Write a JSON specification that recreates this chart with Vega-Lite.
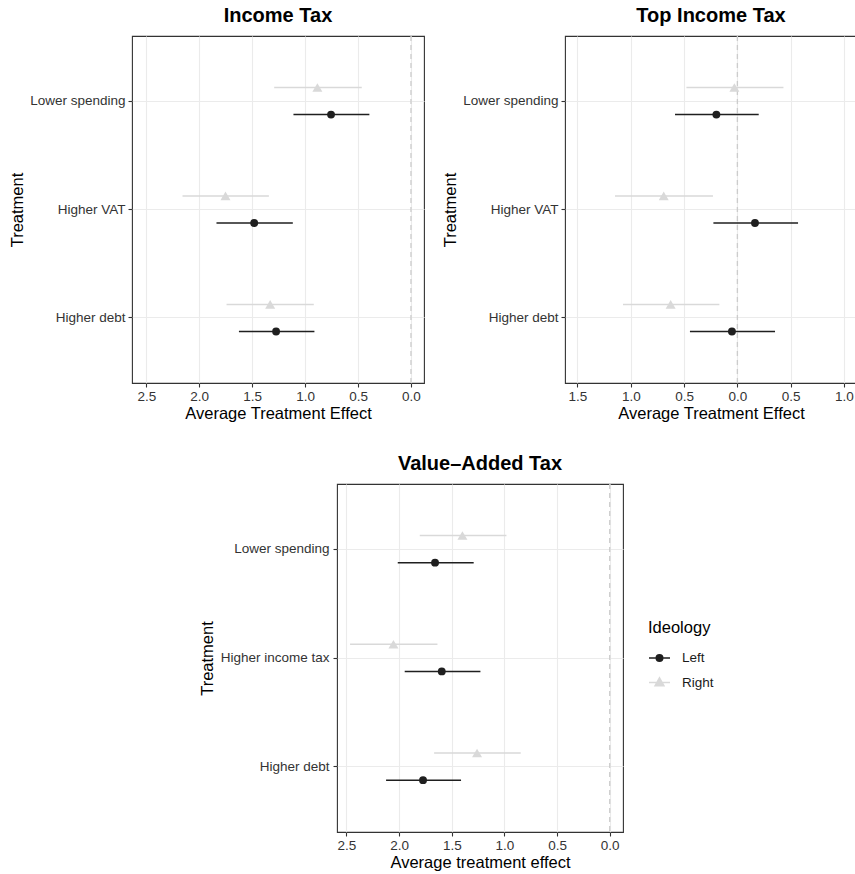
{
  "$schema": "https://vega.github.io/schema/vega-lite/v6.json",
  "padding": {"left": 8, "top": 5, "right": 0, "bottom": 0},
  "background": "white",
  "datasets": {
    "income": [
      {"Treatment": "Lower spending", "Ideology": "Left", "est": -0.755, "lo": -1.110, "hi": -0.393},
      {"Treatment": "Lower spending", "Ideology": "Right", "est": -0.884, "lo": -1.292, "hi": -0.465},
      {"Treatment": "Higher VAT", "Ideology": "Left", "est": -1.481, "lo": -1.837, "hi": -1.116},
      {"Treatment": "Higher VAT", "Ideology": "Right", "est": -1.752, "lo": -2.158, "hi": -1.342},
      {"Treatment": "Higher debt", "Ideology": "Left", "est": -1.274, "lo": -1.625, "hi": -0.912},
      {"Treatment": "Higher debt", "Ideology": "Right", "est": -1.330, "lo": -1.742, "hi": -0.918}
    ],
    "top": [
      {"Treatment": "Lower spending", "Ideology": "Left", "est": -0.197, "lo": -0.585, "hi": 0.200},
      {"Treatment": "Lower spending", "Ideology": "Right", "est": -0.028, "lo": -0.478, "hi": 0.432},
      {"Treatment": "Higher VAT", "Ideology": "Left", "est": 0.165, "lo": -0.225, "hi": 0.569},
      {"Treatment": "Higher VAT", "Ideology": "Right", "est": -0.691, "lo": -1.148, "hi": -0.229},
      {"Treatment": "Higher debt", "Ideology": "Left", "est": -0.051, "lo": -0.445, "hi": 0.353},
      {"Treatment": "Higher debt", "Ideology": "Right", "est": -0.626, "lo": -1.073, "hi": -0.169}
    ],
    "vat": [
      {"Treatment": "Lower spending", "Ideology": "Left", "est": -1.659, "lo": -2.013, "hi": -1.292},
      {"Treatment": "Lower spending", "Ideology": "Right", "est": -1.399, "lo": -1.804, "hi": -0.981},
      {"Treatment": "Higher income tax", "Ideology": "Left", "est": -1.595, "lo": -1.947, "hi": -1.228},
      {"Treatment": "Higher income tax", "Ideology": "Right", "est": -2.054, "lo": -2.466, "hi": -1.636},
      {"Treatment": "Higher debt", "Ideology": "Left", "est": -1.773, "lo": -2.124, "hi": -1.412},
      {"Treatment": "Higher debt", "Ideology": "Right", "est": -1.260, "lo": -1.668, "hi": -0.845}
    ],
    "zero": [{"ref": 0}]
  },
  "config": {
    "font": "Liberation Sans",
    "view": {"stroke": "#333333", "strokeWidth": 1.1},
    "title": {"fontSize": 20, "fontWeight": "bold", "color": "#000000", "anchor": "middle", "baseline": "alphabetic", "offset": 9},
    "axis": {
      "domain": false,
      "tickColor": "#333333",
      "tickSize": 4,
      "tickWidth": 1.1,
      "labelColor": "#333333",
      "labelFontSize": 13.5,
      "titleFontSize": 16.5,
      "titleFontWeight": "normal",
      "titleColor": "#000000",
      "gridColor": "#EBEBEB"
    },
    "axisY": {"grid": true, "gridWidth": 1.1, "minExtent": 104, "maxExtent": 104, "titlePadding": 3, "labelPadding": 3},
    "axisX": {"grid": true, "labelFlush": false, "labelOverlap": false, "titlePadding": 3, "labelPadding": 2}
  },
  "resolve": {
    "scale": {"color": "independent", "shape": "independent", "fill": "independent", "stroke": "independent", "size": "independent"},
    "legend": {"color": "independent", "shape": "independent", "fill": "independent", "stroke": "independent", "size": "independent"}
  },
  "spacing": 30,
  "vconcat": [
    {
      "hconcat": [
        {
          "title": "Income Tax",
          "width": 292,
          "height": 347,
          "data": {"name": "income"},
          "layer": [
            {
              "data": {"name": "zero"},
              "mark": {"type": "rule", "color": "#CCCCCC", "strokeWidth": 1.3, "strokeDash": [5, 4]},
              "encoding": {
                "x": {
                  "field": "ref", "type": "quantitative", "title": "Average Treatment Effect",
                  "scale": {"domain": [-2.635, 0.123], "nice": false, "zero": false},
                  "axis": {
                    "values": [-2.5, -2.25, -2, -1.75, -1.5, -1.25, -1, -0.75, -0.5, -0.25, 0],
                    "labelExpr": "(datum.value*4) % 2 != 0 ? '' : format(abs(datum.value), '.1f')",
                    "tickOpacity": {"condition": {"test": "(datum.value*4) % 2 != 0", "value": 0}, "value": 1},
                    "gridWidth": {"condition": {"test": "(datum.value*4) % 2 != 0", "value": 0.6}, "value": 1.1}
                  }
                }
              }
            },
            {
              "mark": {"type": "rule", "strokeWidth": 1.5},
              "encoding": {
                "x": {"field": "lo", "type": "quantitative", "title": "Average Treatment Effect"},
                "x2": {"field": "hi"},
                "y": {"field": "Treatment", "type": "nominal", "title": "Treatment", "sort": ["Lower spending", "Higher VAT", "Higher debt"], "scale": {"type": "band", "paddingInner": 0, "paddingOuter": 0.1}},
                "yOffset": {"field": "Ideology", "type": "nominal", "scale": {"domain": ["Right", "Left"], "paddingInner": 0, "paddingOuter": 1}},
                "color": {"field": "Ideology", "type": "nominal", "scale": {"domain": ["Left", "Right"], "range": ["#1F1F1F", "#D9D9D9"]}, "legend": null}
              }
            },
            {
              "mark": {"type": "point", "filled": true, "opacity": 1},
              "encoding": {
                "x": {"field": "est", "type": "quantitative", "title": "Average Treatment Effect"},
                "y": {"field": "Treatment", "type": "nominal", "title": "Treatment", "sort": ["Lower spending", "Higher VAT", "Higher debt"]},
                "yOffset": {"field": "Ideology", "type": "nominal"},
                "color": {"field": "Ideology", "type": "nominal", "legend": null},
                "shape": {"field": "Ideology", "type": "nominal", "scale": {"domain": ["Left", "Right"], "range": ["circle", "triangle-up"]}, "legend": null},
                "size": {"field": "Ideology", "type": "nominal", "scale": {"domain": ["Left", "Right"], "range": [62, 100]}, "legend": null}
              }
            }
          ]
        },
        {
          "title": "Top Income Tax",
          "width": 292,
          "height": 347,
          "data": {"name": "top"},
          "layer": [
            {
              "data": {"name": "zero"},
              "mark": {"type": "rule", "color": "#CCCCCC", "strokeWidth": 1.3, "strokeDash": [5, 4]},
              "encoding": {
                "x": {
                  "field": "ref", "type": "quantitative", "title": "Average Treatment Effect",
                  "scale": {"domain": [-1.617, 1.122], "nice": false, "zero": false},
                  "axis": {
                    "values": [-1.5, -1.25, -1, -0.75, -0.5, -0.25, 0, 0.25, 0.5, 0.75, 1],
                    "labelExpr": "(datum.value*4) % 2 != 0 ? '' : format(abs(datum.value), '.1f')",
                    "tickOpacity": {"condition": {"test": "(datum.value*4) % 2 != 0", "value": 0}, "value": 1},
                    "gridWidth": {"condition": {"test": "(datum.value*4) % 2 != 0", "value": 0.6}, "value": 1.1}
                  }
                }
              }
            },
            {
              "mark": {"type": "rule", "strokeWidth": 1.5},
              "encoding": {
                "x": {"field": "lo", "type": "quantitative", "title": "Average Treatment Effect"},
                "x2": {"field": "hi"},
                "y": {"field": "Treatment", "type": "nominal", "title": "Treatment", "sort": ["Lower spending", "Higher VAT", "Higher debt"], "scale": {"type": "band", "paddingInner": 0, "paddingOuter": 0.1}},
                "yOffset": {"field": "Ideology", "type": "nominal", "scale": {"domain": ["Right", "Left"], "paddingInner": 0, "paddingOuter": 1}},
                "color": {"field": "Ideology", "type": "nominal", "scale": {"domain": ["Left", "Right"], "range": ["#1F1F1F", "#D9D9D9"]}, "legend": null}
              }
            },
            {
              "mark": {"type": "point", "filled": true, "opacity": 1},
              "encoding": {
                "x": {"field": "est", "type": "quantitative", "title": "Average Treatment Effect"},
                "y": {"field": "Treatment", "type": "nominal", "title": "Treatment", "sort": ["Lower spending", "Higher VAT", "Higher debt"]},
                "yOffset": {"field": "Ideology", "type": "nominal"},
                "color": {"field": "Ideology", "type": "nominal", "legend": null},
                "shape": {"field": "Ideology", "type": "nominal", "scale": {"domain": ["Left", "Right"], "range": ["circle", "triangle-up"]}, "legend": null},
                "size": {"field": "Ideology", "type": "nominal", "scale": {"domain": ["Left", "Right"], "range": [62, 100]}, "legend": null}
              }
            }
          ]
        }
      ],
      "spacing": 16
    },
    {
      "hconcat": [
        {
          "width": 66,
          "height": 20,
          "view": {"stroke": null},
          "data": {"values": [{"a": 1}]},
          "mark": {"type": "point", "opacity": 0},
          "encoding": {}
        },
        {
          "title": "Value–Added Tax",
          "width": 286,
          "height": 348,
          "data": {"name": "vat"},
          "layer": [
            {
              "data": {"name": "zero"},
              "mark": {"type": "rule", "color": "#CCCCCC", "strokeWidth": 1.3, "strokeDash": [5, 4]},
              "encoding": {
                "x": {
                  "field": "ref", "type": "quantitative", "title": "Average treatment effect",
                  "scale": {"domain": [-2.59, 0.126], "nice": false, "zero": false},
                  "axis": {
                    "values": [-2.5, -2.25, -2, -1.75, -1.5, -1.25, -1, -0.75, -0.5, -0.25, 0],
                    "labelExpr": "(datum.value*4) % 2 != 0 ? '' : format(abs(datum.value), '.1f')",
                    "tickOpacity": {"condition": {"test": "(datum.value*4) % 2 != 0", "value": 0}, "value": 1},
                    "gridWidth": {"condition": {"test": "(datum.value*4) % 2 != 0", "value": 0.6}, "value": 1.1}
                  }
                }
              }
            },
            {
              "transform": [{"filter": "datum.Ideology == 'Right'"}],
              "mark": {"type": "rule", "strokeWidth": 1.5, "color": "#D9D9D9"},
              "encoding": {
                "x": {"field": "lo", "type": "quantitative", "title": "Average treatment effect"},
                "x2": {"field": "hi"},
                "y": {"field": "Treatment", "type": "nominal", "title": "Treatment", "sort": ["Lower spending", "Higher income tax", "Higher debt"], "scale": {"type": "band", "paddingInner": 0, "paddingOuter": 0.1}, "axis": {"minExtent": 119, "maxExtent": 119, "labelPadding": 4}},
                "yOffset": {"field": "Ideology", "type": "nominal", "scale": {"domain": ["Right", "Left"], "paddingInner": 0, "paddingOuter": 1}}
              }
            },
            {
              "transform": [{"filter": "datum.Ideology == 'Right'"}],
              "mark": {"type": "point", "filled": true, "opacity": 1, "shape": "triangle-up", "size": 100, "color": "#D9D9D9"},
              "encoding": {
                "x": {"field": "est", "type": "quantitative", "title": "Average treatment effect"},
                "y": {"field": "Treatment", "type": "nominal", "title": "Treatment", "sort": ["Lower spending", "Higher income tax", "Higher debt"]},
                "yOffset": {"field": "Ideology", "type": "nominal"}
              }
            },
            {
              "transform": [{"filter": "datum.Ideology == 'Left'"}],
              "mark": {"type": "rule", "strokeWidth": 1.5, "color": "#1F1F1F"},
              "encoding": {
                "x": {"field": "lo", "type": "quantitative", "title": "Average treatment effect"},
                "x2": {"field": "hi"},
                "y": {"field": "Treatment", "type": "nominal", "title": "Treatment", "sort": ["Lower spending", "Higher income tax", "Higher debt"]},
                "yOffset": {"field": "Ideology", "type": "nominal"}
              }
            },
            {
              "transform": [{"filter": "datum.Ideology == 'Left'"}],
              "mark": {"type": "point", "filled": true, "opacity": 1, "shape": "circle", "size": 62, "color": "#1F1F1F"},
              "encoding": {
                "x": {"field": "est", "type": "quantitative", "title": "Average treatment effect"},
                "y": {"field": "Treatment", "type": "nominal", "title": "Treatment", "sort": ["Lower spending", "Higher income tax", "Higher debt"]},
                "yOffset": {"field": "Ideology", "type": "nominal"}
              }
            },
            {
              "transform": [{"filter": "false"}],
              "mark": {"type": "point", "filled": true, "opacity": 1, "strokeWidth": 1.5},
              "encoding": {
                "x": {"field": "est", "type": "quantitative", "title": "Average treatment effect"},
                "color": {
                  "field": "Ideology", "type": "nominal", "title": "Ideology",
                  "scale": {"domain": ["Left", "Right"], "range": ["#1F1F1F", "#D9D9D9"]},
                  "legend": {
                    "orient": "none", "legendX": 516, "legendY": 136, "padding": 0,
                    "titleFontSize": 16.5, "titleFontWeight": "normal", "titleColor": "#000000", "titlePadding": 10,
                    "labelFontSize": 13.5, "labelColor": "#1A1A1A", "labelOffset": 11,
                    "symbolSize": 441, "symbolStrokeWidth": 1.5, "symbolOpacity": 1, "rowPadding": 6.5
                  }
                },
                "stroke": {
                  "field": "Ideology", "type": "nominal", "title": "Ideology",
                  "scale": {"domain": ["Left", "Right"], "range": ["#1F1F1F", "#D9D9D9"]},
                  "legend": {
                    "orient": "none", "legendX": 516, "legendY": 136, "padding": 0,
                    "titleFontSize": 16.5, "titleFontWeight": "normal", "titleColor": "#000000", "titlePadding": 10,
                    "labelFontSize": 13.5, "labelColor": "#1A1A1A", "labelOffset": 11,
                    "symbolSize": 441, "symbolStrokeWidth": 1.5, "symbolOpacity": 1, "rowPadding": 6.5
                  }
                },
                "shape": {
                  "field": "Ideology", "type": "nominal", "title": "Ideology",
                  "scale": {"domain": ["Left", "Right"], "range": ["M-1,0H1M-0.31,0A0.31,0.31,0,1,1,0.31,0A0.31,0.31,0,1,1,-0.31,0Z", "M-1,0H1M0,-0.45L0.42,0.3H-0.42Z"]},
                  "legend": {
                    "orient": "none", "legendX": 516, "legendY": 136, "padding": 0,
                    "titleFontSize": 16.5, "titleFontWeight": "normal", "titleColor": "#000000", "titlePadding": 10,
                    "labelFontSize": 13.5, "labelColor": "#1A1A1A", "labelOffset": 11,
                    "symbolSize": 441, "symbolStrokeWidth": 1.5, "symbolOpacity": 1, "rowPadding": 6.5
                  }
                }
              }
            }
          ]
        }
      ],
      "spacing": 0
    }
  ]
}
